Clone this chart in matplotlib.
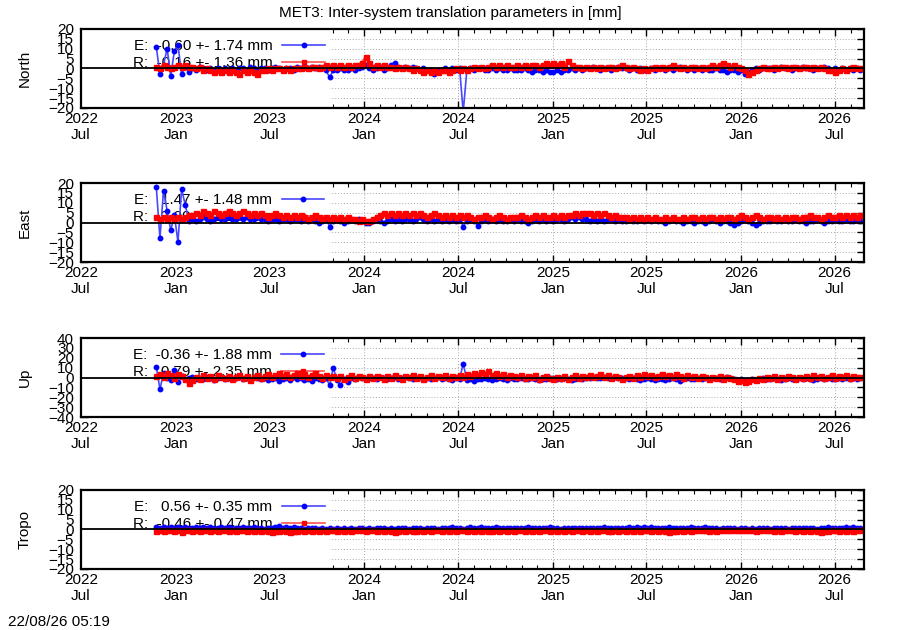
import matplotlib
matplotlib.use('Agg')
import matplotlib.pyplot as plt
import matplotlib.dates as mdates
import numpy as np

# weekly inter-system differences, first epoch below
START = np.datetime64('2022-11-24')
STEP_DAYS = 7

north_e = [11, -3, 2, 10, -4, 9, 12, -3, 1, -2,
           0, -1, 1, 0, -1, 0, -1, 0, -1, 0,
           -1, 0, -1, 0, 0, -1, 1, 0, -1, 0,
           0, -1, 0, 1, 0, -1, 0, 0, -1, 1,
           0, 1, 0, 1, 0, 1, 0, -1, -4.5, -1,
           -1, 0, -1, -1, 0, -1, 0, 1, 2, 0,
           -1, 0, 1, -1, 0, 2, 3, 1, 0, 1,
           0, 1, 0, -1, 0, -1, -1, -3, -1, -1,
           0, -1, 0, -1, 0, -22, -1, 0, -1, 0,
           0, -1, -1, 0, -1, 0, -1, -1, 0, -1,
           -1, -1, 0, -1, -2, -1, -1, -2, -1, -2,
           -2, -1, -2, -1, -1, 0, -1, 0, -1, 0,
           0, 1, 0, -1, 0, 0, -1, 0, 1, 0,
           0, -1, 0, -1, 0, -1, -1, 0, -1, 0,
           0, -1, 0, -1, 0, 1, 0, -1, 0, -1,
           0, -1, 0, -1, -1, 0, -1, -1, -2, -1,
           -1, -2, -1, -3, -2, -1, 0, -1, 0, 0,
           0, -1, 0, 1, 0, 0, -1, 0, 0, 1,
           0, 0, -1, 0, 0, 1, 0, -1, 0, -1,
           0, -1, 0, -1, 0, -1]
north_r = [1, 0, 2, 1, 0, 1, 2, 1, 2, 1,
           1, 0, 1, -1, 0, -1, -2, -1, -2, -1,
           -2, -1, -2, -3, -1, -2, -1, -2, -3, -1,
           -1, 0, -1, 0, 0, -1, 0, -1, 0, 0,
           0, 1, 0, 1, 1, 0, 1, 2, 1, 2,
           1, 2, 1, 2, 1, 2, 2, 3, 6, 3,
           1, 2, 1, 2, 1, 1, 0, 1, 0, 1,
           0, -1, 0, -1, -2, -1, -2, -1, -2, -1,
           -1, -2, -1, 0, -1, 0, -1, 0, 1, 0,
           1, 0, 1, 2, 1, 2, 1, 2, 1, 1,
           2, 1, 2, 1, 2, 2, 1, 2, 3, 2,
           3, 2, 3, 1, 4, 2, 1, 1, 0, 1,
           0, 1, 0, 1, 0, 1, 1, 0, 1, 2,
           1, 0, 1, 0, -1, 0, -1, 0, 1, 0,
           1, 0, 1, 2, 1, 0, 1, 0, 1, 1,
           0, 1, 0, 1, 2, 1, 2, 3, 2, 1,
           2, 1, 0, -1, -3, -2, -1, 0, 1, 0,
           0, 1, 0, 1, 1, 0, 1, 1, 0, 1,
           1, 0, 1, 0, 1, 0, -1, -1, -2, -1,
           0, -1, 0, 1, 0, 0]

east_e = [18, -8, 16, 6, -4, 4, -10, 17, 9, 1,
          2, 1, 2, 3, 2, 1, 2, 3, 2, 2,
          3, 2, 2, 3, 2, 3, 2, 2, 3, 2,
          2, 1, 2, 2, 1, 2, 2, 1, 2, 2,
          1, 2, 1, 2, 1, 0, 1, 2, -2, 1,
          2, 1, 0, 1, 2, 1, 2, 1, 0, 0,
          1, 2, 1, 0, 1, 2, 1, 2, 1, 2,
          2, 1, 2, 3, 2, 1, 2, 1, 2, 1,
          2, 1, 2, 1, 2, -2, 1, 2, 1, -1.5,
          1, 2, 1, 2, 1, 2, 1, 1, 2, 1,
          2, 1, 1, 0, 1, 2, 1, 2, 1, 2,
          1, 2, 2, 1, 2, 3, 2, 3, 2, 2,
          1, 2, 1, 2, 1, 2, 2, 1, 2, 1,
          1, 2, 1, 1, 2, 1, 2, 1, 2, 1,
          1, 0, 1, 2, 1, 1, 0, 1, 1, 0,
          1, 1, 0, 1, 2, 1, 0, 1, 1, 0,
          -1, 0, 1, 2, 1, 0, -1, 0, 1, 1,
          1, 2, 1, 1, 2, 1, 1, 2, 1, 1,
          0, 1, 1, 2, 1, 0, 1, 1, 2, 1,
          1, 2, 1, 1, 2, 1]
east_r = [3, 2, 3, 2, 3, 2, 3, 2, 3, 4,
          4, 5, 4, 6, 5, 4, 6, 5, 4, 5,
          6, 5, 4, 5, 6, 5, 4, 5, 4, 5,
          4, 3, 4, 5, 4, 3, 4, 3, 4, 3,
          4, 3, 2, 3, 4, 3, 2, 3, 2, 3,
          2, 3, 2, 3, 2, 2, 1, 2, 1, 1,
          2, 3, 4, 5, 4, 5, 4, 5, 4, 5,
          4, 5, 4, 5, 4, 3, 4, 5, 4, 3,
          4, 3, 4, 3, 4, 3, 4, 3, 2, 3,
          3, 4, 3, 2, 3, 4, 3, 2, 3, 3,
          3, 4, 3, 2, 3, 4, 3, 4, 3, 3,
          4, 3, 4, 3, 4, 4, 5, 4, 5, 5,
          5, 4, 5, 4, 5, 4, 3, 4, 3, 3,
          3, 2, 3, 2, 3, 2, 3, 2, 3, 2,
          2, 3, 2, 3, 2, 2, 3, 2, 3, 3,
          2, 3, 2, 3, 3, 2, 3, 2, 3, 3,
          2, 3, 4, 3, 2, 3, 4, 3, 2, 3,
          3, 2, 3, 2, 3, 2, 3, 3, 2, 3,
          3, 4, 3, 3, 2, 3, 4, 3, 3, 4,
          3, 4, 3, 4, 3, 4]

up_e = [11, -12, 5, 0, -2, 8, -5, 2, -1, 0,
        1, -1, 0, -1, 1, 0, -2, 0, 1, -1,
        0, -1, 0, 1, -1, 0, -2, 1, 0, -1,
        0, -2, -1, 0, -3, -1, 0, -2, 1, -1,
        0, -2, -1, -3, 0, -1, -2, 0, -8, 10,
        -2, -8, -1, -5, 0, -1, 1, 0, -1, 0,
        0, -1, 1, 0, -1, 0, 1, -1, 0, 1,
        0, -1, 0, 1, -1, 0, -1, 0, 1, -1,
        0, -1, -2, 0, -1, 14, -2, -1, -3, -1,
        -1, 0, -1, -2, -1, 0, -1, -2, 0, -1,
        -1, 0, -1, -1, 0, -1, -2, -1, -1, 0,
        0, -1, -1, 0, -1, -2, -1, 0, -1, 0,
        0, 1, 0, 0, 1, 0, 0, 1, 0, 0,
        0, -1, 0, -1, -2, -1, 0, -1, -2, -1,
        -1, -2, -1, 0, -1, -3, -1, 0, -1, -1,
        0, -1, 0, -1, 0, 0, -1, 0, 1, 0,
        -1, -2, -1, -3, -2, -1, -2, -1, 0, -1,
        -1, 0, -1, -2, -1, 0, -1, -1, 0, -1,
        0, -1, -2, -1, 0, -1, 0, -1, -1, 0,
        -1, 0, -1, 0, -1, 0]
up_r = [2, 4, 1, 5, 3, 0, 4, 2, -1, -6,
        -2, 1, -1, 3, 0, 2, -1, 3, 1, 0,
        2, -1, 1, 3, 0, 2, -2, 1, 3, 0,
        2, 4, 1, 3, 5, 2, 4, 1, 3, 5,
        2, 4, 1, 3, 5, 2, 0, 3, 1, 2,
        0, 2, -1, 1, 3, 0, 2, 1, -1, 2,
        0, 2, 1, -1, 2, 0, 3, 1, -1, 2,
        1, 3, 0, 2, -1, 1, 3, 0, 2, 1,
        3, 0, 2, 1, 3, 1, 4, 2, 5, 3,
        6, 4, 7, 3, 5, 2, 4, 1, 3, 2,
        1, 3, 0, 2, 1, 3, -1, 1, 2, 0,
        -1, 1, 0, 2, -1, 1, 3, 0, 2, 1,
        3, 1, 2, 4, 1, 3, 0, 2, 1, -1,
        1, 2, 0, 3, 1, 4, 2, 3, 1, 2,
        4, 2, 3, 1, 4, 2, 0, 3, 1, 2,
        0, 2, 1, -1, 1, 0, 2, -1, 1, 0,
        -1, -3, -2, -5, -3, -1, -2, 0, -1, 1,
        0, 2, -1, 1, 0, 2, 1, -1, 1, 0,
        2, 0, 3, 1, 2, 0, 1, 3, 0, 2,
        1, 3, 0, 2, 1, 1]

tropo_e = [1, 0.5, 1, 0.5, 1, 0.8, 1.2, 0.5, 1, 0.6,
           0.5, 1, 0.7, 1.2, 0.6, 1, 0.5, 0.8, 1.2, 0.6,
           1, 0.5, 0.9, 0.6, 1.1, 0.5, 0.8, 1, 0.5, 0.7,
           0.4, 0.8, 0.5, 1, 1.5, 0.7, 1.2, 0.6, 1, 0.5,
           0.7, 0.3, 0.8, 0.5, 0.6, 0.2, 0.7, 0.4, 0.6, 0.3,
           0.5, 0.2, 0.6, 0.4, 0.7, 0.3, 0.5, 0.8, 0.4, 0.6,
           0.3, 0.7, 0.5, 0.9, 0.4, 0.6, 0.3, 0.8, 0.5, 0.7,
           0.4, 0.8, 0.5, 0.6, 0.3, 0.7, 0.5, 0.9, 0.4, 0.6,
           0.8, 0.5, 1, 0.6, 0.9, 0.4, 0.7, 1, 0.5, 0.8,
           1, 0.6, 0.9, 0.5, 1.1, 0.7, 0.9, 0.5, 0.8, 0.6,
           0.9, 0.5, 0.8, 1, 0.6, 0.9, 0.5, 0.8, 0.6, 1,
           0.6, 0.9, 0.4, 0.8, 0.5, 0.9, 0.6, 0.8, 0.5, 0.7,
           0.9, 0.5, 0.8, 0.6, 1, 0.5, 0.8, 0.6, 0.9, 0.5,
           0.8, 1.2, 0.6, 1, 0.7, 1.3, 0.8, 1, 0.6, 0.9,
           0.5, 0.8, 1, 0.6, 0.9, 0.5, 0.8, 0.6, 1, 0.7,
           0.9, 0.6, 1, 0.5, 0.8, 0.6, 0.4, 0.7, 0.5, 0.8,
           0.6, 0.4, 0.7, 0.5, 0.3, 0.6, 0.4, 0.7, 0.5, 0.6,
           0.4, 0.7, 0.5, 0.8, 0.6, 0.4, 0.7, 0.5, 0.8, 0.6,
           0.9, 0.5, 0.7, 0.4, 0.8, 0.6, 1, 0.5, 0.8, 0.6,
           0.9, 1.2, 0.7, 1, 0.6, 0.8]
tropo_r = [-0.8, -0.3, -1, -0.5, -0.2, -0.8, -0.4, -1.1, -0.5, -0.2,
           -0.6, -0.3, -0.9, -0.4, -0.1, -0.7, -0.3, -0.8, -0.5, -0.2,
           -0.7, -0.4, -1, -0.5, -0.2, -0.8, -0.4, -0.6, -0.3, -0.9,
           -0.5, -0.8, -1.2, -0.6, -1, -0.4, -0.8, -1.3, -0.6, -0.9,
           -0.4, -0.8, -0.5, -1, -0.3, -0.7, -0.4, -0.9, -0.5, -0.2,
           -0.6, -0.3, -0.8, -0.4, -0.7, -0.2, -0.5, -0.3, -0.6, -0.4,
           -0.2, -0.6, -0.3, -0.7, -0.4, -0.8, -1.5, -0.7, -0.4, -0.9,
           -0.5, -1, -0.6, -0.3, -0.8, -0.4, -0.9, -0.5, -0.2, -0.6,
           -0.3, -0.7, -0.4, -0.8, -0.5, -0.2, -0.6, -0.3, -0.8, -0.4,
           -0.7, -0.3, -0.6, -0.9, -0.4, -0.7, -0.3, -0.6, -0.4, -0.8,
           -0.5, -0.2, -0.6, -0.3, -0.7, -0.4, -0.8, -0.5, -0.2, -0.6,
           -0.3, -0.7, -0.4, -0.6, -0.3, -0.8, -0.5, -0.2, -0.6, -0.4,
           -0.7, -0.4, -0.8, -0.5, -0.3, -0.6, -0.9, -0.5, -0.8, -0.4,
           -0.6, -0.3, -0.7, -0.4, -0.8, -0.5, -0.3, -0.6, -0.4, -0.7,
           -0.5, -0.8, -1.1, -0.6, -0.9, -0.4, -0.7, -0.3, -0.6, -0.4,
           -0.2, -0.5, -0.3, -0.6, -0.4, -0.7, -0.3, -0.5, -0.2, -0.4,
           -0.3, -0.1, -0.4, -0.2, -0.5, -0.3, -0.6, -0.4, -0.2, -0.5,
           -0.3, -0.6, -0.4, -0.7, -0.3, -0.5, -0.2, -0.6, -0.4, -0.7,
           -0.5, -0.8, -0.4, -0.7, -1.2, -0.6, -0.9, -0.5, -0.3, -0.6,
           -0.4, -0.7, -0.3, -0.6, -0.4, -0.5]

panel_names = ['North', 'East', 'Up', 'Tropo']
e_labels = ['E:  -0.60 +- 1.74 mm', 'E:   1.47 +- 1.48 mm',
            'E:  -0.36 +- 1.88 mm', 'E:   0.56 +- 0.35 mm']
r_labels = ['R:  -0.16 +- 1.36 mm', 'R:   3.00 +- 1.14 mm',
            'R:   0.79 +- 2.35 mm', 'R:  -0.46 +- 0.47 mm']
y_limits = [20, 20, 40, 20]
y_steps = [5, 5, 10, 5]

TITLE = 'MET3: Inter-system translation parameters in [mm]'
STAMP = '22/08/26 05:19'


def epochs(values):
    return START + np.arange(len(values)) * np.timedelta64(STEP_DAYS, 'D')


if __name__ == '__main__':
    plt.rcParams['font.family'] = ['Liberation Sans', 'DejaVu Sans']
    plt.rcParams['font.size'] = 11

    fig = plt.figure(figsize=(9, 6.3), dpi=100)
    bottoms = [0.8286, 0.584, 0.338, 0.097]
    series = [(north_e, north_r), (east_e, east_r),
              (up_e, up_r), (tropo_e, tropo_r)]
    xmin = np.datetime64('2022-07-01')
    xmax = np.datetime64('2026-08-27')
    key_end = np.datetime64('2023-10-26')

    for k, (e, r) in enumerate(series):
        ax = fig.add_axes([0.09, bottoms[k], 0.87, 0.1254])
        lim, step = y_limits[k], y_steps[k]

        ax.set_axisbelow(True)
        ax.grid(True, color='#a8a8a8', lw=0.7, ls=(0, (1, 2)))
        # the key box hides the grid on the left
        ax.axvspan(xmin, key_end, color='white', zorder=0.8, lw=0)

        ax.plot(epochs(e), e, color='#4848ff', lw=1.2, marker='o', ms=3.2,
                mfc='#0000ff', mec='#0000ff', label=e_labels[k], zorder=2)
        ax.plot(epochs(r), r, color='#ff5050', lw=1.7, marker='s', ms=3.6,
                mfc='#ff0000', mec='#ff0000', label=r_labels[k], zorder=2.1)
        ax.axhline(0, color='black', lw=1.3, zorder=3)

        leg = ax.legend(loc='upper left', bbox_to_anchor=(0.066, 0.87),
                        frameon=False, markerfirst=False, numpoints=1,
                        handlelength=2.8, handletextpad=0.65,
                        labelspacing=0.2, borderpad=0, borderaxespad=0,
                        fontsize=11)
        for h in leg.legend_handles:
            h.set_markersize(3.2)
            h.set_linewidth(1.2)
        leg.set_zorder(1)

        ax.set_xlim(xmin, xmax)
        ax.set_ylim(-lim, lim)
        ax.set_yticks(np.arange(-lim, lim + 1, step))
        ax.xaxis.set_major_locator(mdates.MonthLocator(bymonth=[1, 7]))
        ax.xaxis.set_minor_locator(mdates.MonthLocator())
        ax.xaxis.set_major_formatter(mdates.DateFormatter('%Y\n%b'))
        ax.tick_params(which='both', direction='in', top=True, right=True,
                       labelsize=11)
        ax.tick_params(which='major', length=5, width=1, pad=3)
        ax.tick_params(which='minor', length=3, width=0.8)
        ax.tick_params(axis='y', pad=5)
        for s in ax.spines.values():
            s.set_linewidth(1.6)
        ax.set_ylabel(panel_names[k], fontsize=11)
        ax.yaxis.set_label_coords(-0.063, 0.5)

    fig.text(0.5, 1 - 13 / 630, TITLE, ha='center', va='center', fontsize=11)
    fig.text(8 / 900, 1 - 622 / 630, STAMP, ha='left', va='center',
             fontsize=11)
    fig.savefig('out.png', dpi=100)
